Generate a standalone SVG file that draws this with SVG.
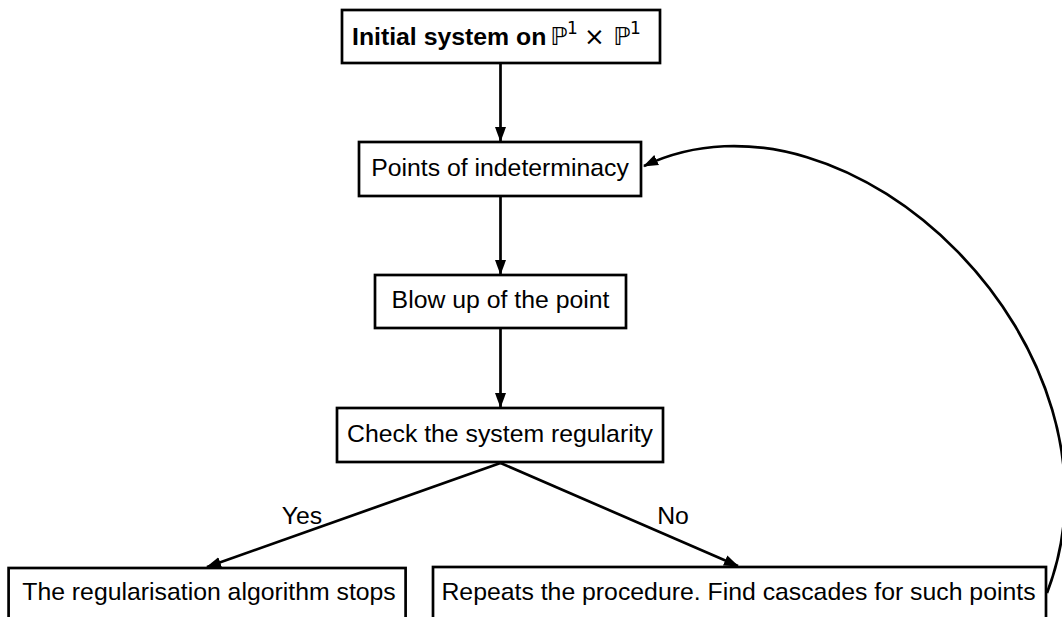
<svg xmlns="http://www.w3.org/2000/svg" width="1062" height="617" viewBox="0 0 1062 617">
<defs>
<style>
.box{fill:#fff;stroke:#000;stroke-width:2.7}
.t{font-family:"Liberation Sans",Arial,sans-serif;font-size:24.8px;fill:#000;text-anchor:middle}
.e{fill:none;stroke:#000;stroke-width:2.7}
.m{font-family:"DejaVu Sans","Liberation Sans",sans-serif;font-weight:normal}
</style>
<marker id="ah" markerWidth="15" markerHeight="12" refX="14" refY="6" orient="auto" markerUnits="userSpaceOnUse">
<path d="M0,0.5 L15,6 L0,11.5 Z" fill="#000"/>
</marker>
</defs>
<rect width="1062" height="617" fill="#fff"/>
<g id="connectors">
<line class="e" x1="500.5" y1="63" x2="500.5" y2="141" marker-end="url(#ah)"/>
<line class="e" x1="500.5" y1="196" x2="500.5" y2="274" marker-end="url(#ah)"/>
<line class="e" x1="500.5" y1="329" x2="500.5" y2="407" marker-end="url(#ah)"/>
<line class="e" x1="500.5" y1="463" x2="207" y2="567" marker-end="url(#ah)"/>
<line class="e" x1="500.5" y1="463" x2="738" y2="566" marker-end="url(#ah)"/>
<path class="e" d="M1047,593 C1140,350 850,68 644,166" marker-end="url(#ah)"/>
<text class="t" x="302" y="524">Yes</text>
<text class="t" x="673" y="524">No</text>
</g>
<g id="n1">
<rect class="box" x="342" y="10" width="318" height="53"/>
<text class="t" x="352" y="45" style="text-anchor:start"><tspan font-weight="bold">Initial system on</tspan><tspan class="m" x="550">ℙ</tspan><tspan class="m" font-size="17" x="567" dy="-11">1</tspan><tspan class="m" x="584" dy="11">×</tspan><tspan class="m" x="613">ℙ</tspan><tspan class="m" font-size="17" x="630" dy="-11">1</tspan></text>
</g>
<g id="n2">
<rect class="box" x="359" y="142" width="282" height="54"/>
<text class="t" x="500" y="176">Points of indeterminacy</text>
</g>
<g id="n3">
<rect class="box" x="375" y="275" width="251" height="53"/>
<text class="t" x="500.5" y="308">Blow up of the point</text>
</g>
<g id="n4">
<rect class="box" x="337" y="408" width="326" height="54"/>
<text class="t" x="500" y="442">Check the system regularity</text>
</g>
<g id="n5">
<rect class="box" x="8.6" y="568" width="397" height="60"/>
<text class="t" x="209" y="600">The regularisation algorithm stops</text>
</g>
<g id="n6">
<rect class="box" x="433" y="567" width="613" height="60"/>
<text class="t" x="738.5" y="600">Repeats the procedure. Find cascades for such points</text>
</g>
</svg>
